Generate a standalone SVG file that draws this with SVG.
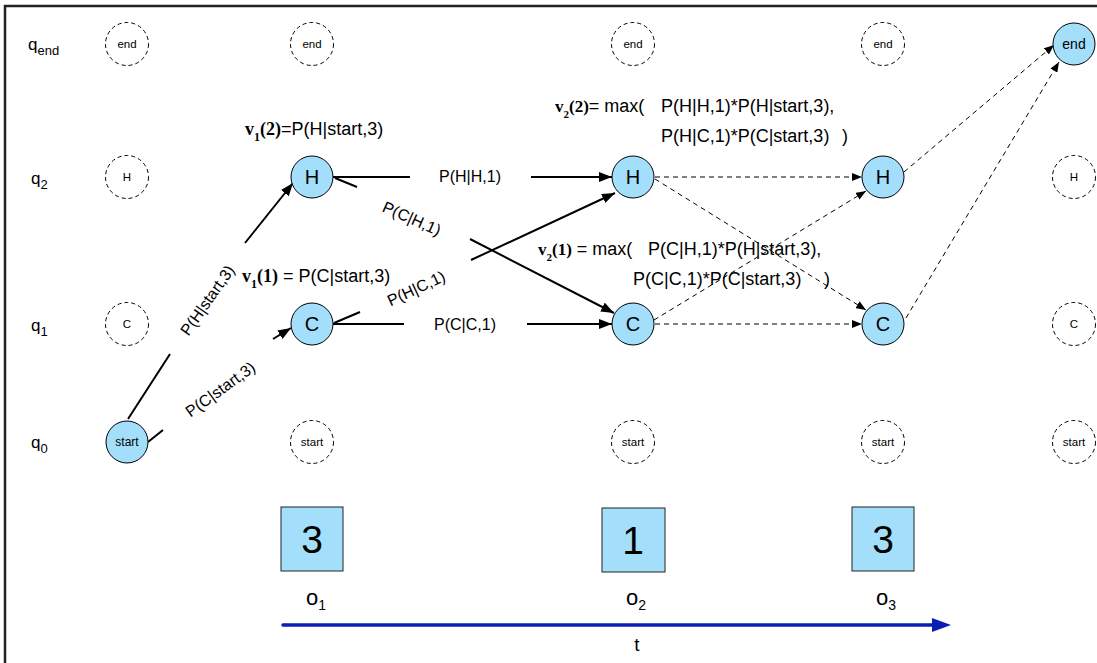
<svg xmlns="http://www.w3.org/2000/svg" width="1097" height="663" viewBox="0 0 1097 663">
<defs>
<style>
.sans{font-family:"Liberation Sans",Arial,sans-serif;fill:#000}
.ser{font-family:"Liberation Serif","Times New Roman",serif;font-weight:bold;fill:#000}
.ghost{fill:none;stroke:#000;stroke-width:1;stroke-dasharray:4 3}
.node{fill:#a3dffb;stroke:#000;stroke-width:1}
.solid{stroke:#000;stroke-width:2;fill:none}
.dash{stroke:#000;stroke-width:1;stroke-dasharray:5 4;fill:none}
.lbl{font-size:16px;text-anchor:middle}
.f{font-size:18px}
.row{font-size:17px}
.gt{font-size:11.5px;text-anchor:middle}
.obs{fill:#a3dffb;stroke:#222;stroke-width:1}
</style>
<marker id="aS" markerUnits="userSpaceOnUse" markerWidth="14" markerHeight="10" refX="13" refY="5" orient="auto">
<path d="M0,0 L13,5 L0,10 z" fill="#000"/>
</marker>
<marker id="aD" markerUnits="userSpaceOnUse" markerWidth="11" markerHeight="8" refX="10" refY="4" orient="auto">
<path d="M0,0 L10,4 L0,8 z" fill="#000"/>
</marker>
</defs>
<rect width="1097" height="663" fill="#fff"/>
<path d="M5,663 V6 H1097" fill="none" stroke="#222" stroke-width="2.5"/>

<!-- row labels -->
<g id="row-labels" class="sans row">
<text x="28" y="50">q<tspan font-size="13" dy="5">end</tspan></text>
<text x="31" y="184">q<tspan font-size="13" dy="5">2</tspan></text>
<text x="31" y="331">q<tspan font-size="13" dy="5">1</tspan></text>
<text x="31" y="448">q<tspan font-size="13" dy="5">0</tspan></text>
</g>

<!-- ghost nodes -->
<g id="g-end-0"><circle class="ghost" cx="127" cy="44" r="21.5"/><text class="sans gt" x="127" y="48">end</text></g>
<g id="g-end-1"><circle class="ghost" cx="312" cy="44" r="21.5"/><text class="sans gt" x="312" y="48">end</text></g>
<g id="g-end-2"><circle class="ghost" cx="633" cy="44" r="21.5"/><text class="sans gt" x="633" y="48">end</text></g>
<g id="g-end-3"><circle class="ghost" cx="883" cy="44" r="21.5"/><text class="sans gt" x="883" y="48">end</text></g>
<g id="g-H-0"><circle class="ghost" cx="127" cy="177" r="21.5"/><text class="sans gt" x="127" y="181">H</text></g>
<g id="g-H-4"><circle class="ghost" cx="1074" cy="177" r="21.5"/><text class="sans gt" x="1074" y="181">H</text></g>
<g id="g-C-0"><circle class="ghost" cx="127" cy="324" r="21.5"/><text class="sans gt" x="127" y="328">C</text></g>
<g id="g-C-4"><circle class="ghost" cx="1074" cy="324" r="21.5"/><text class="sans gt" x="1074" y="328">C</text></g>
<g id="g-start-1"><circle class="ghost" cx="312" cy="442" r="21.5"/><text class="sans gt" x="312" y="446">start</text></g>
<g id="g-start-2"><circle class="ghost" cx="633" cy="442" r="21.5"/><text class="sans gt" x="633" y="446">start</text></g>
<g id="g-start-3"><circle class="ghost" cx="883" cy="442" r="21.5"/><text class="sans gt" x="883" y="446">start</text></g>
<g id="g-start-4"><circle class="ghost" cx="1074" cy="442" r="21.5"/><text class="sans gt" x="1074" y="446">start</text></g>

<!-- connectors -->
<g id="connectors">
<line class="solid" x1="128" y1="419" x2="170" y2="354"/>
<line class="solid" x1="245" y1="243" x2="293" y2="183" marker-end="url(#aS)"/>
<line class="solid" x1="148" y1="442" x2="163" y2="430"/>
<line class="solid" x1="273" y1="339" x2="291" y2="328" marker-end="url(#aS)"/>
<line class="solid" x1="333" y1="177" x2="410" y2="177"/>
<line class="solid" x1="531" y1="177" x2="612" y2="177" marker-end="url(#aS)"/>
<line class="solid" x1="335" y1="178" x2="357" y2="187"/>
<line class="solid" x1="470" y1="239" x2="614" y2="313" marker-end="url(#aS)"/>
<line class="solid" x1="334" y1="323" x2="360" y2="312"/>
<line class="solid" x1="471" y1="260" x2="615" y2="193" marker-end="url(#aS)"/>
<line class="solid" x1="333" y1="324" x2="404" y2="324"/>
<line class="solid" x1="527" y1="324" x2="612" y2="324" marker-end="url(#aS)"/>
<line class="dash" x1="655" y1="177" x2="862" y2="177" marker-end="url(#aD)"/>
<line class="dash" x1="655" y1="179" x2="866" y2="310" marker-end="url(#aD)"/>
<line class="dash" x1="654" y1="320" x2="866" y2="191" marker-end="url(#aD)"/>
<line class="dash" x1="655" y1="324" x2="862" y2="324" marker-end="url(#aD)"/>
<line class="dash" x1="904" y1="172" x2="1054" y2="45" marker-end="url(#aD)"/>
<line class="dash" x1="906" y1="318" x2="1059" y2="62" marker-end="url(#aD)"/>
<g class="sans lbl">
<text transform="translate(207,300) rotate(-55)" dy="6">P(H|start,3)</text>
<text transform="translate(220,389) rotate(-36)" dy="6">P(C|start,3)</text>
<text x="470" y="182">P(H|H,1)</text>
<text transform="translate(412,218) rotate(24)" dy="6">P(C|H,1)</text>
<text transform="translate(416,288) rotate(-25)" dy="6">P(H|C,1)</text>
<text x="465" y="330">P(C|C,1)</text>
</g>
</g>

<!-- trellis nodes -->
<g id="n-start"><circle class="node" cx="127" cy="442" r="21" stroke-width="2"/><text class="sans" x="127" y="446" font-size="12" text-anchor="middle">start</text></g>
<g id="n-H1"><circle class="node" cx="312" cy="177" r="21"/><text class="sans" x="312" y="184" font-size="20" text-anchor="middle">H</text></g>
<g id="n-C1"><circle class="node" cx="312" cy="324" r="21"/><text class="sans" x="312" y="331" font-size="20" text-anchor="middle">C</text></g>
<g id="n-H2"><circle class="node" cx="633" cy="177" r="21"/><text class="sans" x="633" y="184" font-size="20" text-anchor="middle">H</text></g>
<g id="n-C2"><circle class="node" cx="633" cy="324" r="21"/><text class="sans" x="633" y="331" font-size="20" text-anchor="middle">C</text></g>
<g id="n-H3"><circle class="node" cx="883" cy="177" r="21"/><text class="sans" x="883" y="184" font-size="20" text-anchor="middle">H</text></g>
<g id="n-C3"><circle class="node" cx="883" cy="324" r="21"/><text class="sans" x="883" y="331" font-size="20" text-anchor="middle">C</text></g>
<g id="n-end"><circle class="node" cx="1074" cy="44" r="21"/><text class="sans" x="1074" y="49" font-size="14" text-anchor="middle">end</text></g>

<!-- formulas -->
<g id="v1-2">
<text x="245" y="135"><tspan class="ser" font-size="18">v</tspan><tspan class="ser" font-size="12" dy="6">1</tspan><tspan class="ser" font-size="18" dy="-6">(2)</tspan><tspan class="sans f">=P(H|start,3)</tspan></text>
</g>
<g id="v1-1">
<text x="242" y="282"><tspan class="ser" font-size="18">v</tspan><tspan class="ser" font-size="12" dy="6">1</tspan><tspan class="ser" font-size="18" dy="-6">(1)</tspan><tspan class="sans f"> = P(C|start,3)</tspan></text>
</g>
<g id="v2-2">
<text x="555" y="112"><tspan class="ser" font-size="17">v</tspan><tspan class="ser" font-size="11" dy="6">2</tspan><tspan class="ser" font-size="17" dy="-6">(2)</tspan><tspan class="sans f">= max(</tspan></text>
<text class="sans f" x="661" y="112">P(H|H,1)*P(H|start,3),</text>
<text class="sans f" x="661" y="142">P(H|C,1)*P(C|start,3)</text>
<text class="sans f" x="842" y="142">)</text>
</g>
<g id="v2-1">
<text x="538" y="255"><tspan class="ser" font-size="17">v</tspan><tspan class="ser" font-size="11" dy="6">2</tspan><tspan class="ser" font-size="17" dy="-6">(1)</tspan><tspan class="sans f"> = max(</tspan></text>
<text class="sans f" x="648" y="255">P(C|H,1)*P(H|start,3),</text>
<text class="sans f" x="633" y="285">P(C|C,1)*P(C|start,3)</text>
<text class="sans f" x="824" y="285">)</text>
</g>

<!-- observations -->
<g id="obs-1"><rect class="obs" x="281" y="507" width="62" height="64"/><text class="sans" x="312" y="553" font-size="39" text-anchor="middle">3</text></g>
<g id="obs-2"><rect class="obs" x="602" y="508" width="63" height="64"/><text class="sans" x="633" y="554" font-size="39" text-anchor="middle">1</text></g>
<g id="obs-3"><rect class="obs" x="852" y="507" width="62" height="64"/><text class="sans" x="883" y="553" font-size="39" text-anchor="middle">3</text></g>
<g id="obs-labels" class="sans" font-size="22">
<text x="306" y="605">o<tspan font-size="14" dy="5">1</tspan></text>
<text x="626" y="605">o<tspan font-size="14" dy="5">2</tspan></text>
<text x="876" y="605">o<tspan font-size="14" dy="5">3</tspan></text>
</g>

<!-- time axis -->
<g id="time-axis">
<line x1="283" y1="625" x2="934" y2="625" stroke="#0b1db3" stroke-width="3.5" stroke-linecap="round"/>
<path d="M932,618 L951,625 L932,632 z" fill="#0b1db3"/>
<text class="sans" x="637" y="651" font-size="19" text-anchor="middle">t</text>
</g>
</svg>
